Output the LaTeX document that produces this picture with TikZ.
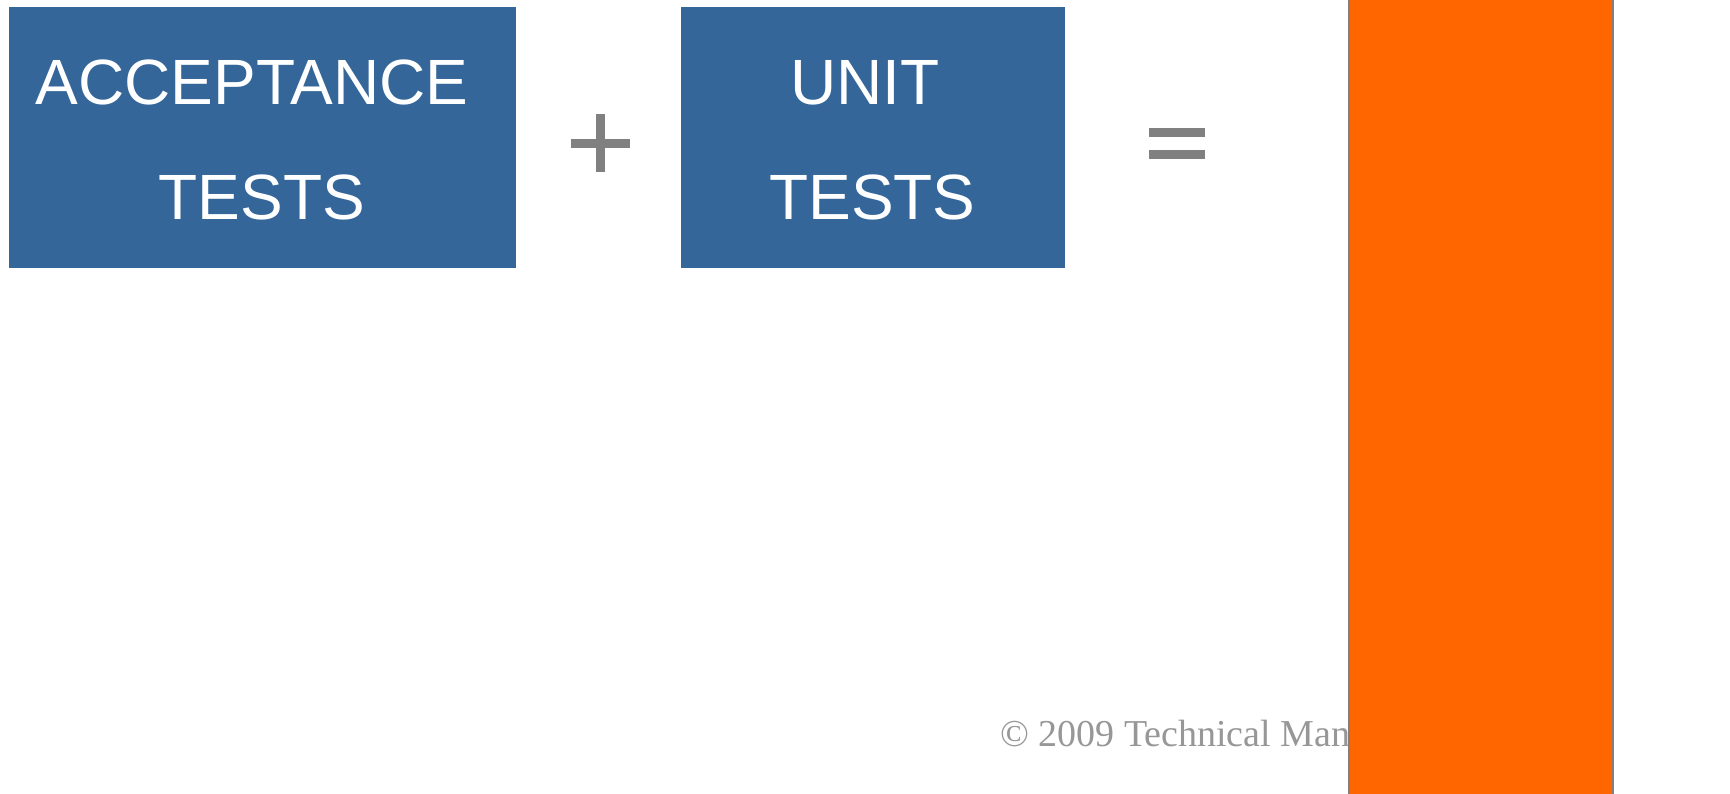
\documentclass[tikz,border=0pt]{standalone}
\usepackage{fontspec}
\newfontfamily\boxfont{Liberation Sans}
\newfontfamily\copyfont{Liberation Serif}
\definecolor{boxblue}{HTML}{346699}
\definecolor{signgray}{HTML}{808080}
\definecolor{copygray}{HTML}{979797}
\definecolor{orangebar}{HTML}{FF6600}
\begin{document}
\begin{tikzpicture}[x=1pt,y=-1pt,
  testbox/.style={rectangle, fill=boxblue, draw=none, inner sep=0pt},
  boxtext/.style={anchor=base, inner sep=0pt, text=white, font=\boxfont\fontsize{64}{77}\selectfont},
  signline/.style={draw=signgray, line width=9pt},
  copytext/.style={anchor=base west, inner sep=0pt, text=copygray, font=\copyfont\fontsize{38}{46}\selectfont}]
\useasboundingbox[fill=white] (0,0) rectangle (1730,793);
% boxes
\node[testbox, minimum width=507.2pt, minimum height=261.4pt] (acc) at (262.4,137.3) {};
\node[testbox, minimum width=384pt, minimum height=261.4pt] (unit) at (873,137.3) {};
\node[boxtext] (acc1) at (252,104) {ACCEPTANCE};
\node[boxtext] (acc2) at (262,219) {TESTS};
\node[boxtext] (unit1) at (865,104) {UNIT};
\node[boxtext] (unit2) at (872.5,219) {TESTS};
% plus sign
\draw[signline] (571,143) -- (630,143);
\draw[signline] (600.5,114) -- (600.5,172);
% equals sign
\draw[signline] (1149,132.5) -- (1205,132.5);
\draw[signline] (1149,154) -- (1205,154);
% copyright
\node[copytext] (copy) at (1000,746) {© 2009 Technical Man};
% orange bar
\draw[fill=orangebar, draw=signgray, line width=2pt] (1349,-2) rectangle (1613,795);
\end{tikzpicture}
\end{document}
